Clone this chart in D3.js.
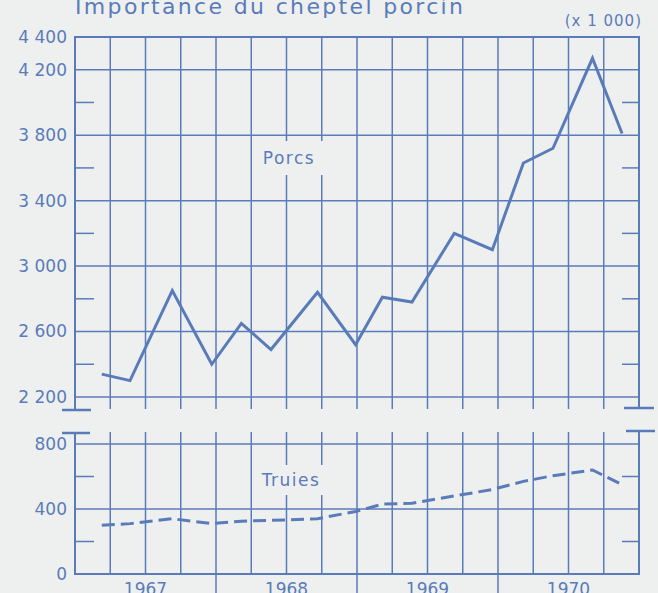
<html>
<head>
<script src="https://d3js.org/d3.v7.min.js"></script>
<style>
    body { margin: 0; background: #eef0f0; }
    svg { display: block; }
    text { font-family: "DejaVu Sans", sans-serif; fill: #5a7bb9; }
</style>
</head>
<body>
<svg width="658" height="593"></svg>
<script>

// survey dates (decimal years) and herd sizes (x 1000)
var dates  = [1967.19, 1967.39, 1967.69, 1967.97, 1968.18, 1968.39, 1968.72, 1968.99,
              1969.18, 1969.39, 1969.69, 1969.96, 1970.18, 1970.39, 1970.67, 1970.88];
var porcs  = [2340, 2300, 2850, 2400, 2650, 2490, 2840, 2520,
              2810, 2780, 3200, 3100, 3630, 3720, 4270, 3810];
var truies = [300, 310, 340, 310, 325, 330, 340, 385,
              430, 435, 480, 520, 570, 605, 640, 550];

var years = [1967, 1968, 1969, 1970];
var topLabels = [4400, 4200, 3800, 3400, 3000, 2600, 2200];
var topGrid = [4200, 3800, 3400, 3000, 2600, 2200];
var topMinor = [4000, 3600, 3200, 2800, 2400];
var botLabels = [800, 400, 0];
var botGrid = [800, 400];
var botMinor = [600, 200];

var blue = "#5a7bb9";
var bg = "#eef0f0";

var left = 75, right = 639;
var x = d3.scaleLinear().domain([1967, 1971]).range([left, right]);
var yTop = d3.scaleLinear().domain([2200, 4400]).range([397, 37]);
var yBot = d3.scaleLinear().domain([0, 800]).range([574, 444]);

var fr = d3.formatLocale({decimal: ",", thousands: " ", grouping: [3], currency: ["", ""]});
var fmt = fr.format(",d");

var svg = d3.select("svg");

// title (cut off at the top of the scan)
svg.append("text")
    .attr("x", 75).attr("y", 14)
    .attr("textLength", 388).attr("lengthAdjust", "spacing")
    .style("font-size", "22px")
    .text("Importance du cheptel porcin");

svg.append("text")
    .attr("x", 642).attr("y", 26)
    .attr("text-anchor", "end")
    .style("font-size", "15px")
    .style("letter-spacing", "1px")
    .text("(x 1 000)");

var quarters = d3.range(0, 17).map(function(k) { return 1967 + k / 4; });

function panel(y, top, bottom, grid, minor) {
    var g = svg.append("g");
    // vertical grid
    g.selectAll(".v").data(quarters.slice(1, -1)).enter().append("line")
        .attr("x1", function(d) { return x(d); }).attr("x2", function(d) { return x(d); })
        .attr("y1", top).attr("y2", bottom)
        .attr("stroke", blue).attr("stroke-width", 1.5);
    // horizontal grid
    g.selectAll(".h").data(grid).enter().append("line")
        .attr("x1", left).attr("x2", right)
        .attr("y1", function(d) { return y(d); }).attr("y2", function(d) { return y(d); })
        .attr("stroke", blue).attr("stroke-width", 1.5);
    // minor ticks both sides
    g.selectAll(".ml").data(minor).enter().append("line")
        .attr("x1", left).attr("x2", left + 19)
        .attr("y1", function(d) { return y(d); }).attr("y2", function(d) { return y(d); })
        .attr("stroke", blue).attr("stroke-width", 1.5);
    g.selectAll(".mr").data(minor).enter().append("line")
        .attr("x1", right - 17).attr("x2", right)
        .attr("y1", function(d) { return y(d); }).attr("y2", function(d) { return y(d); })
        .attr("stroke", blue).attr("stroke-width", 1.5);
    return g;
}

panel(yTop, 37, 409, topGrid, topMinor);
panel(yBot, 432, 574, botGrid, botMinor);

// frames
svg.append("path")
    .attr("d", "M" + left + "," + 409 + "V37H" + right + "V409")
    .attr("fill", "none").attr("stroke", blue).attr("stroke-width", 2);
svg.append("path")
    .attr("d", "M" + left + ",432V574H" + right + "V432")
    .attr("fill", "none").attr("stroke", blue).attr("stroke-width", 2);

// break marks
[[62, 91, 410], [62, 90, 433], [624, 654, 408], [626, 655, 431]].forEach(function(b) {
    svg.append("line").attr("x1", b[0]).attr("x2", b[1]).attr("y1", b[2]).attr("y2", b[2])
        .attr("stroke", blue).attr("stroke-width", 2.5);
});

// year dividers below the axis
svg.selectAll(".yd").data(years.slice(1)).enter().append("line")
    .attr("x1", function(d) { return x(d); }).attr("x2", function(d) { return x(d); })
    .attr("y1", 574).attr("y2", 593)
    .attr("stroke", blue).attr("stroke-width", 1.5);

svg.selectAll(".yl").data(years).enter().append("text")
    .attr("x", function(d) { return x(d + 0.5); })
    .attr("y", 595)
    .attr("text-anchor", "middle")
    .style("font-size", "17px")
    .text(function(d) { return d; });

// y labels
function yLabels(scale, vals) {
    var a = svg.append("g")
        .attr("transform", "translate(" + left + ",0)")
        .call(d3.axisLeft(scale).tickValues(vals).tickSize(0).tickPadding(8).tickFormat(fmt));
    a.select(".domain").remove();
    a.selectAll("text").style("font-size", "17px").style("font-family", "DejaVu Sans, sans-serif")
        .attr("fill", blue);
}
yLabels(yTop, topLabels);
yLabels(yBot, botLabels);

// series labels with paper background
function label(txt, cx, cy, w, h) {
    svg.append("rect").attr("x", cx - w / 2).attr("y", cy - h / 2).attr("width", w).attr("height", h)
        .attr("fill", bg);
    svg.append("text").attr("x", cx).attr("y", cy + 6)
        .attr("text-anchor", "middle")
        .style("font-size", "17px").style("letter-spacing", "1.5px")
        .text(txt);
}
label("Porcs", 289, 158, 70, 34);
label("Truies", 291, 480, 70, 30);

var lineTop = d3.line()
    .x(function(d, i) { return x(dates[i]); })
    .y(function(d) { return yTop(d); });
var lineBot = d3.line()
    .x(function(d, i) { return x(dates[i]); })
    .y(function(d) { return yBot(d); });

svg.append("path").datum(porcs)
    .attr("d", lineTop)
    .attr("fill", "none").attr("stroke", blue).attr("stroke-width", 3)
    .attr("stroke-linejoin", "miter");

svg.append("path").datum(truies)
    .attr("d", lineBot)
    .attr("fill", "none").attr("stroke", blue).attr("stroke-width", 3)
    .attr("stroke-dasharray", "13,6");

</script>
</body>
</html>
